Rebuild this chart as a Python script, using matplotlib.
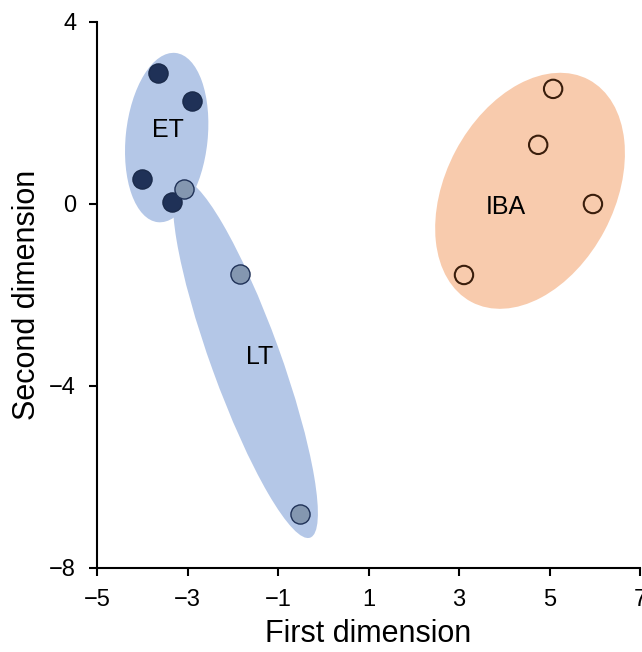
import matplotlib.pyplot as plt
from matplotlib.patches import Ellipse

plt.rcParams['font.family'] = ['Liberation Sans', 'DejaVu Sans']

# Scores on the first two dimensions
et_x = [-3.65, -2.90, -4.01, -3.34]
et_y = [2.88, 2.26, 0.55, 0.04]

lt_x = [-3.08, -1.84, -0.51]
lt_y = [0.33, -1.54, -6.81]

iba_x = [5.08, 4.75, 5.96, 3.11]
iba_y = [2.53, 1.30, 0.00, -1.56]

# Group ellipses: centre x, centre y, minor, major, angle (deg)
groups = ['ET', 'LT', 'IBA']
ell_cx = [-3.46, -1.72, 4.57]
ell_cy = [1.46, -3.40, 0.29]
ell_w = [1.81, 1.53, 3.73]
ell_h = [3.74, 8.37, 5.53]
ell_ang = [-6, 20, -28]
ell_colors = ['#b4c7e7', '#b4c7e7', '#f8cbad']

label_x = [-3.43, -1.40, 4.03]
label_y = [1.63, -3.36, -0.07]

fig = plt.figure(figsize=(6.42, 6.52), dpi=100)
ax = fig.add_axes([97/642, 84/652, 543/642, 546/652])

for i in range(len(groups)):
    e = Ellipse((ell_cx[i], ell_cy[i]), ell_w[i], ell_h[i], angle=ell_ang[i],
                facecolor=ell_colors[i], edgecolor='none', zorder=1)
    ax.add_patch(e)
    ax.text(label_x[i], label_y[i], groups[i], fontsize=18, ha='center',
            va='center', color='black', zorder=4)

ax.scatter(et_x, et_y, s=190, color='#1f3157', edgecolors='#1a2a4a',
           linewidths=1, zorder=3)
ax.scatter(lt_x, lt_y, s=190, color='#8497b0', edgecolors='#1f3157',
           linewidths=1, zorder=3)
ax.scatter(iba_x, iba_y, s=175, facecolors='none', edgecolors='#3a1e0c',
           linewidths=1.5, zorder=3)

ax.set_xlim(-5, 7)
ax.set_ylim(-8, 4)
ax.set_xticks([-5, -3, -1, 1, 3, 5, 7])
ax.set_yticks([-8, -4, 0, 4])
ax.spines['top'].set_visible(False)
ax.spines['right'].set_visible(False)
for s in ['left', 'bottom']:
    ax.spines[s].set_linewidth(1.5)
ax.tick_params(direction='out', length=6, width=1.5, labelsize=17, pad=9)

ax.set_xlabel('First dimension', fontsize=22, labelpad=6)
ax.set_ylabel('Second dimension', fontsize=22, labelpad=5)

fig.savefig('out.png', dpi=100)
